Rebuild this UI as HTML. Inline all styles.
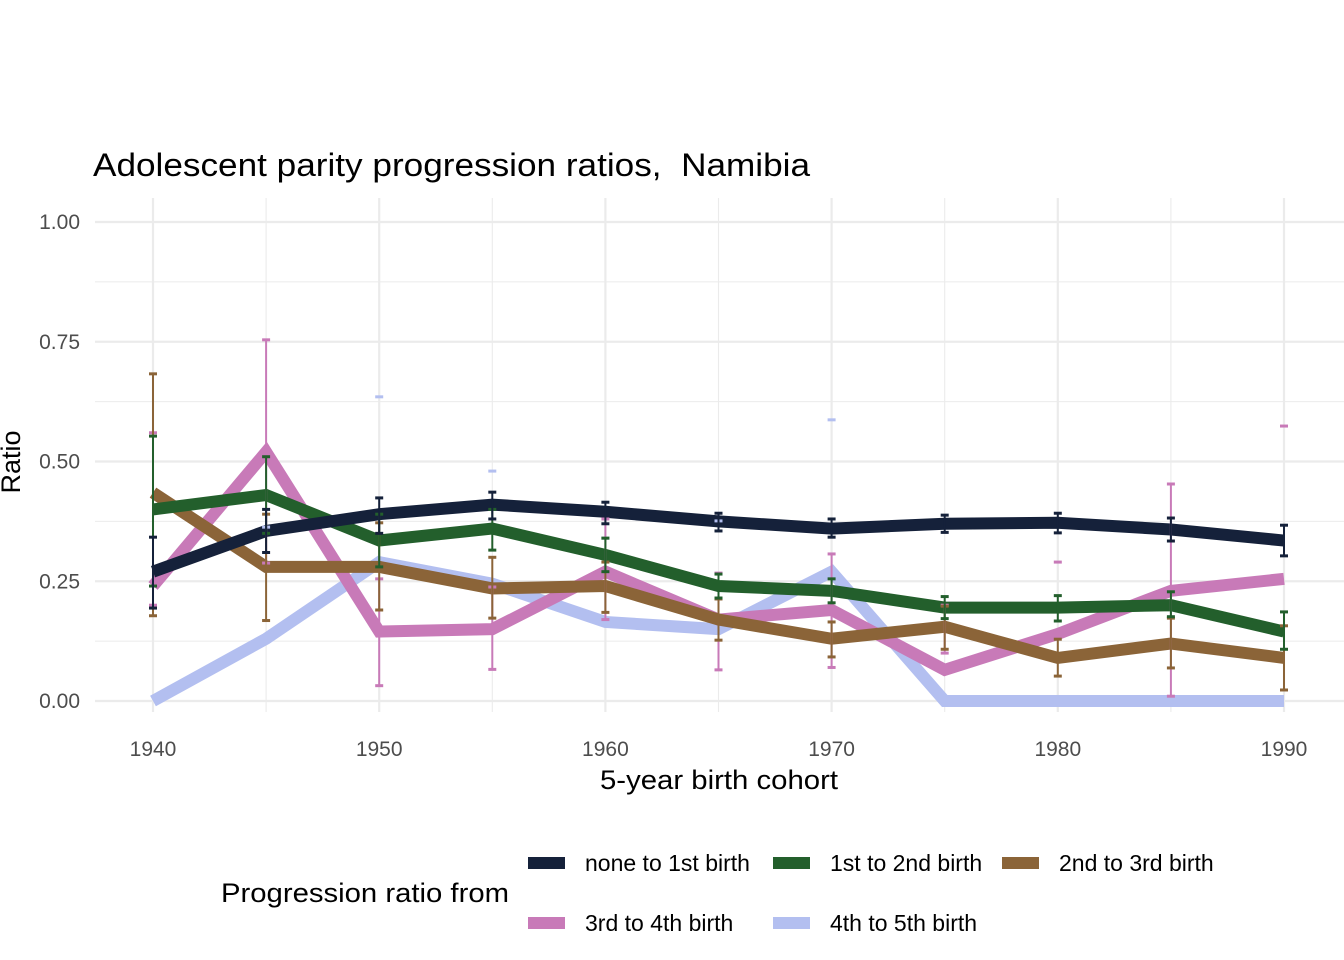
<!DOCTYPE html>
<html><head><meta charset="utf-8"><style>
body{margin:0;background:#fff;}
svg{display:block;font-family:"Liberation Sans",Arial,sans-serif;}
</style></head><body>
<svg id="chart" width="1344" height="960" viewBox="0 0 1344 960" xmlns="http://www.w3.org/2000/svg">
<rect width="1344" height="960" fill="#fff"/>
<text x="93" y="176" font-size="32" fill="#000" textLength="717" lengthAdjust="spacingAndGlyphs" xml:space="preserve">Adolescent parity progression ratios,  Namibia</text>
<g id="grid"></g>
<g id="marks"></g>
<g id="axes"></g>
<text x="600" y="789" font-size="27" textLength="238" lengthAdjust="spacingAndGlyphs">5-year birth cohort</text>
<text transform="translate(20,462) rotate(-90)" font-size="27" text-anchor="middle">Ratio</text>
<g id="legend">
<text x="221" y="902" font-size="27" textLength="288" lengthAdjust="spacingAndGlyphs">Progression ratio from</text>
</g>
</svg>
<script>
const years=[1940,1945,1950,1955,1960,1965,1970,1975,1980,1985,1990];
const seriesNames=["none to 1st birth","1st to 2nd birth","2nd to 3rd birth","3rd to 4th birth","4th to 5th birth"];
const seriesColors=["#15213a","#235f2c","#8b6438","#c87ab8","#b3bff0"];
const s1=[0.27,0.355,0.39,0.41,0.395,0.375,0.36,0.37,0.372,0.358,0.335];
const s2=[0.40,0.43,0.335,0.36,0.305,0.24,0.23,0.195,0.195,0.20,0.145];
const s3=[0.435,0.28,0.28,0.235,0.24,0.17,0.13,0.155,0.09,0.12,0.09];
const s4=[0.24,0.52,0.145,0.15,0.27,0.17,0.19,0.065,0.14,0.23,0.255];
const s5=[0,0.13,0.29,0.245,0.165,0.15,0.27,0,0,0,0];
const lo1=[0.194,0.31,0.35,0.38,0.37,0.355,0.342,0.352,0.351,0.334,0.303];
const hi1=[0.342,0.40,0.424,0.436,0.415,0.392,0.38,0.388,0.392,0.382,0.367];
const lo2=[0.24,0.35,0.28,0.315,0.27,0.215,0.205,0.172,0.167,0.176,0.108];
const hi2=[0.553,0.51,0.39,0.40,0.34,0.265,0.255,0.218,0.22,0.228,0.186];
const lo3=[0.178,0.168,0.19,0.173,0.185,0.127,0.092,0.108,0.052,0.069,0.023];
const hi3=[0.683,0.39,0.372,0.30,0.29,0.213,0.165,0.198,0.129,0.173,0.157];
const lo4=[0.20,0.288,0.032,0.066,0.17,0.065,0.07,0.10,0.13,0.01,0.255];
const hi4=[0.56,0.754,0.255,0.238,0.38,0.267,0.307,0.20,0.29,0.453,0.574];
const lo5=[0,0.363,0.635,0.48,0.34,0.376,0.587,0,0,0,0];
const hi5=[0,0.363,0.635,0.48,0.34,0.376,0.587,0,0,0,0];
const stem4=[1,1,1,1,1,1,1,1,0,1,0];
const yTicks=[0,0.25,0.5,0.75,1.0];
const yTickLabels=["0.00","0.25","0.50","0.75","1.00"];
const xTicks=[1940,1950,1960,1970,1980,1990];

const NS="http://www.w3.org/2000/svg";
const X=v=>153+(v-1940)*(1284-153)/50;
const Y=v=>701-v*479;
function mk(tag,attrs,parent){const e=document.createElementNS(NS,tag);for(const k in attrs)e.setAttribute(k,attrs[k]);parent.appendChild(e);return e;}
const grid=document.getElementById('grid'),marks=document.getElementById('marks'),axes=document.getElementById('axes'),legend=document.getElementById('legend');
for(let v=0;v<=1.0001;v+=0.125){const major=Math.abs(v*4-Math.round(v*4))<1e-6;
 const l=mk('line',{x1:95,x2:1344,y1:Y(v),y2:Y(v),stroke:'#ebebeb','stroke-width':major?2.2:1.1},grid);
 
 }
for(let yr=1940;yr<=1990;yr+=5){const major=yr%10===0;
 const l=mk('line',{x1:X(yr),x2:X(yr),y1:198,y2:712,stroke:'#ebebeb','stroke-width':major?2.2:1.1},grid);
 
 }
yTicks.forEach((v,i)=>{const t=mk('text',{x:80,y:Y(v)+7,'font-size':21,fill:'#4d4d4d','text-anchor':'end'},axes);t.textContent=yTickLabels[i];
 
 });
xTicks.forEach(v=>{const t=mk('text',{x:X(v),y:756,'font-size':21,fill:'#4d4d4d','text-anchor':'middle'},axes);t.textContent=v;
 
 });
const vals=[s1,s2,s3,s4,s5],los=[lo1,lo2,lo3,lo4,lo5],his=[hi1,hi2,hi3,hi4,hi5];
const drawOrder=[4,3,2,1,0];
drawOrder.forEach(si=>{
 const p=mk('polyline',{points:years.map((y,i)=>X(y)+','+Y(vals[si][i])).join(' '),fill:'none',stroke:seriesColors[si],'stroke-width':12,'stroke-linejoin':'miter'},marks);
 
 
});
drawOrder.forEach(si=>{
 years.forEach((y,i)=>{const lo=los[si][i],hi=his[si][i];if(hi===0)return;const x=X(y);
  const g=mk('g',{stroke:seriesColors[si],'stroke-width':2},marks);
  
  
  const stem=(si===3?stem4[i]:1)&&hi!==lo;
  if(stem)mk('line',{x1:x,x2:x,y1:Y(lo),y2:Y(hi)},g);
  if(hi!==lo&&stem)mk('line',{x1:x-4,x2:x+4,y1:Y(lo),y2:Y(lo),'stroke-width':3},g);
  mk('line',{x1:x-4,x2:x+4,y1:Y(hi),y2:Y(hi),'stroke-width':3},g);
 });
});
const legPos=[[528,863],[773,863],[1002,863],[528,923],[773,923]];
const legW=[167,153,158,150,149];
seriesNames.forEach((n,i)=>{const [lx,ly]=legPos[i];
 const r=mk('rect',{x:lx,y:ly-6,width:37,height:12,fill:seriesColors[i]},legend);
 
 
 const t=mk('text',{x:lx+57,y:ly+8,'font-size':23,fill:'#000'},legend);t.textContent=n;
 
 });
</script>
</body></html>
